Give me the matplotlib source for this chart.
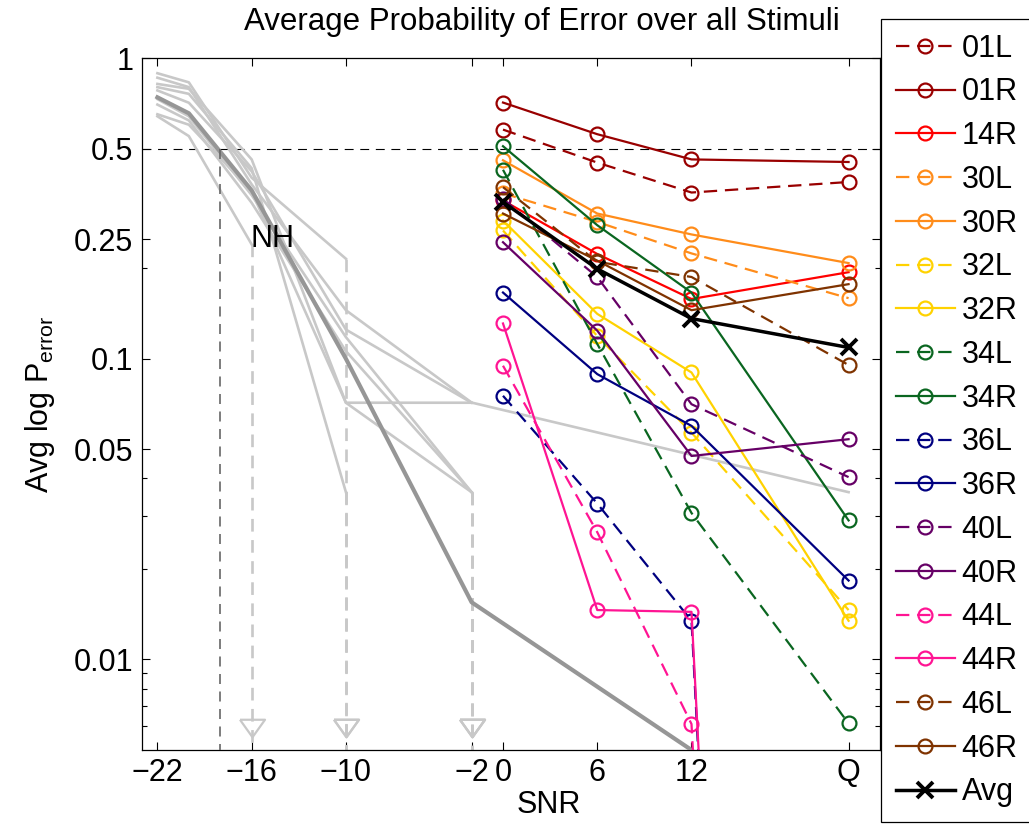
import numpy as np
import matplotlib
matplotlib.use("Agg")
import matplotlib.pyplot as plt
from matplotlib.ticker import FixedLocator, NullFormatter
import matplotlib.transforms as mtransforms

plt.rcParams['font.family'] = ['Liberation Sans', 'DejaVu Sans']
plt.rcParams['mathtext.fontset'] = 'custom'
plt.rcParams['mathtext.rm'] = 'Liberation Sans'
plt.rcParams['mathtext.it'] = 'Liberation Sans:italic'

# ---------------- data ----------------
snr_ticks = [-22, -16, -10, -2, 0, 6, 12, 22]
snr_tick_labels = ['\u221222', '\u221216', '\u221210', '\u22122', '0', '6', '12', 'Q']
y_ticks = [0.01, 0.05, 0.1, 0.25, 0.5, 1]
y_tick_labels = ['0.01', '0.05', '0.1', '0.25', '0.5', '1']
y_minor = [0.006, 0.007, 0.008, 0.009, 0.02, 0.03, 0.04, 0.2]

# normal-hearing listeners (0 = no errors -> drawn as drop arrow)
nh_snr = [-22, -20, -16, -10, -2, 22]
nh_A = [0.89, 0.83, 0.40, 0.215, 0, np.nan]
nh_B = [0.86, 0.80, 0.38, 0.145, 0.0715, 0.036]
nh_C = [0.82, 0.79, 0.46, 0.0714, 0.0714, np.nan]
nh_D = [0.80, 0.76, 0.43, 0.036, 0, np.nan]
nh_E = [0.73, 0.64, 0.35, 0.118, 0.036, 0]
nh_F = [0.70, 0.62, 0.33, 0.106, 0.036, 0]
nh_G = [0.65, 0.60, 0.36, 0.0714, 0.036, 0]
nh_H = [0.64, 0.55, 0.24, 0, np.nan, np.nan]
nh_I = [0.78, 0.71, 0.42, 0.125, 0.0714, np.nan]
nh_listeners = [nh_A, nh_B, nh_C, nh_D, nh_E, nh_F, nh_G, nh_H, nh_I]

nh_avg_snr = [-22, -20, -16, -10, -2, 12]
nh_avg = [0.74, 0.655, 0.363, 0.10, 0.0155, 0.005]
nh_srt = -18
p_threshold = 0.5

# hearing-impaired ears: SNR 0, 6, 12, Q(quiet)
snr_hi = [0, 6, 12, 22]
p01L = [0.578, 0.449, 0.357, 0.387]
p01R = [0.711, 0.558, 0.460, 0.451]
p14R = [0.336, 0.223, 0.158, 0.194]
p30L = [0.355, 0.285, 0.224, 0.159]
p30R = [0.457, 0.304, 0.259, 0.208]
p32L = [0.267, 0.119, 0.0568, 0.0146]
p32R = [0.288, 0.141, 0.090, 0.01345]
p34L = [0.425, 0.112, 0.0307, 0.00613]
p34R = [0.509, 0.278, 0.166, 0.029]
p36L = [0.0753, 0.033, 0.01345, 1e-12]
p36R = [0.166, 0.0889, 0.0598, 0.0183]
p40L = [0.340, 0.187, 0.0706, 0.0404]
p40R = [0.244, 0.124, 0.0475, 0.054]
p44L = [0.0948, 0.0265, 0.0061, 1e-12]
p44R = [0.131, 0.0146, 0.0144, 1e-12]
p46L = [0.372, 0.210, 0.187, 0.0953]
p46R = [0.304, 0.212, 0.145, 0.177]
pAvg = [0.332, 0.199, 0.136, 0.109]

ear_labels = ['01L', '01R', '14R', '30L', '30R', '32L', '32R', '34L', '34R',
              '36L', '36R', '40L', '40R', '44L', '44R', '46L', '46R']
ear_values = [p01L, p01R, p14R, p30L, p30R, p32L, p32R, p34L, p34R,
              p36L, p36R, p40L, p40R, p44L, p44R, p46L, p46R]

# ---------------- styles ----------------
ear_colors = {'01': '#990000', '14': '#FF0000', '30': '#FF8C1A', '32': '#FFD200',
              '34': '#0A6620', '36': '#000080', '40': '#660066', '44': '#FF1493',
              '46': '#7F3300'}
light_gray = '#C8C8C8'
dark_gray = '#969696'
FS = 22

fig = plt.figure(figsize=(10.29, 8.25), dpi=100)
ax = fig.add_axes([141.7 / 1029, 1 - 750 / 825, (880 - 141.7) / 1029, (750 - 58) / 825])
ax.set_yscale('log')
ax.set_xlim(-23, 24)
ax.set_ylim(0.005, 1)

# threshold line
ax.axhline(p_threshold, color='black', lw=0.8, ls=(0, (8, 6)), zorder=1)

# NH listeners
tri = [(-1, 0.7), (1, 0.7), (0, -0.7), (-1, 0.7)]
bt = mtransforms.blended_transform_factory(ax.transData, ax.transAxes)
for vals in nh_listeners:
    v = np.array(vals, dtype=float)
    vplot = np.where(v > 0, v, np.nan)
    ax.plot(nh_snr, vplot, color=light_gray, lw=1.9, zorder=2)
    for i in range(1, len(v)):
        if v[i] == 0 and v[i - 1] > 0:
            ax.plot([nh_snr[i - 1], nh_snr[i - 1]], [v[i - 1], 0.004], color=light_gray,
                    lw=1.9, ls=(0, (4.8, 3.2)), zorder=2)
            ax.plot([nh_snr[i - 1]], [0.032], transform=bt, marker=tri, ms=18,
                    mfc='none', mec=light_gray, mew=1.6, ls='none', zorder=2,
                    clip_on=False)

ax.plot(nh_avg_snr, nh_avg, color=dark_gray, lw=3.0, zorder=3)
ax.plot([nh_srt, nh_srt], [p_threshold, 0.004], color='#666666', lw=1.2,
        ls=(0, (6, 4.5)), zorder=3)
ax.text(-16.1, 0.25, 'NH', fontsize=FS, ha='left', va='center', zorder=4)

# HI ears
handles = []
for lab, vals in zip(ear_labels, ear_values):
    col = ear_colors[lab[:2]]
    ls = (0, (6, 3.5)) if lab.endswith('L') else '-'
    h, = ax.plot(snr_hi, vals, color=col, ls=ls, lw=1.6, marker='o', ms=10,
                 mfc='none', mec=col, mew=1.6, zorder=5, label=lab)
    handles.append(h)
h, = ax.plot(snr_hi, pAvg, color='black', lw=2.5, marker='x', ms=11, mew=2.8,
             zorder=6, label='Avg')
handles.append(h)

# axes styling
ax.set_xticks(snr_ticks)
ax.set_xticklabels(snr_tick_labels)
ax.yaxis.set_major_locator(FixedLocator(y_ticks))
ax.set_yticklabels(y_tick_labels)
ax.yaxis.set_minor_locator(FixedLocator(y_minor))
ax.yaxis.set_minor_formatter(NullFormatter())
ax.tick_params(which='both', direction='in', top=True, right=True, labelsize=FS,
               width=0.8, color='black')
ax.tick_params(which='major', length=6, pad=6)
ax.tick_params(which='minor', length=3.5)
for s in ax.spines.values():
    s.set_linewidth(0.9)

ax.set_xlabel('SNR', fontsize=FS)
ax.xaxis.set_label_coords((549 - 141.7) / (880 - 141.7), -0.058)
ax.set_ylabel('Avg log P$_{\\mathrm{error}}$', fontsize=FS, labelpad=12)
ax.text((542 - 141.7) / (880 - 141.7), 1 + 36 / 692, 'Average Probability of Error over all Stimuli',
        transform=ax.transAxes, ha='center', va='center', fontsize=22.5)

leg = fig.legend(handles=handles, loc='upper left',
                 bbox_to_anchor=(881 / 1029, 1 - 19 / 825), borderaxespad=0,
                 fontsize=FS, frameon=True, fancybox=False, edgecolor='black',
                 framealpha=1, handlelength=1.93, handletextpad=0.23,
                 labelspacing=0.45, borderpad=0.48)
leg.get_frame().set_linewidth(0.9)

fig.savefig('out.png', dpi=100)
